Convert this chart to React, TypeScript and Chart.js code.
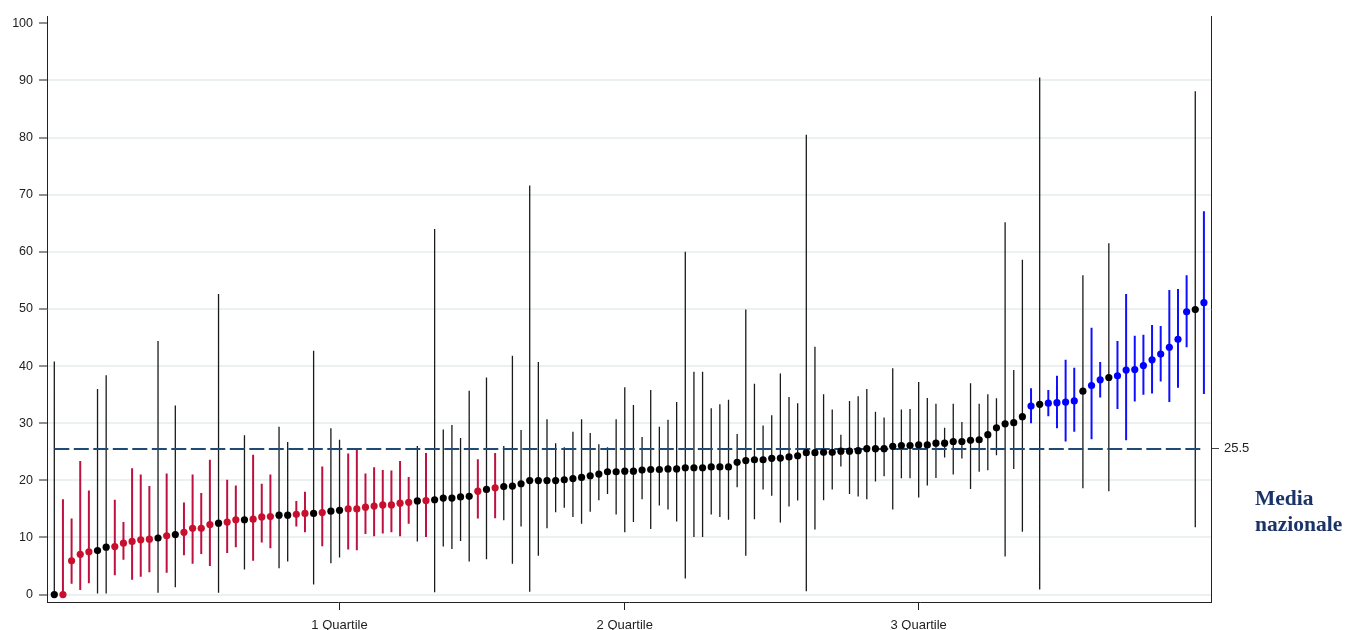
import { useEffect, useRef } from "react";
import { Chart, registerables } from "chart.js";
Chart.register(...registerables);

// ---- data ----
const values = [
  0, 0, 5.9, 7.05, 7.5, 7.7, 8.3, 8.4, 9.0, 9.3, 9.6, 9.7, 9.9, 10.3, 10.5, 10.9, 11.6, 11.6, 12.25, 12.5,
  12.7, 13.1, 13.1, 13.2, 13.6, 13.65, 13.9, 13.9, 14.05, 14.2, 14.2, 14.35, 14.6, 14.75, 15.0, 15.0, 15.3, 15.5, 15.7, 15.7,
  16.0, 16.15, 16.4, 16.45, 16.6, 16.9, 16.9, 17.1, 17.2, 18.1, 18.4, 18.7, 18.9, 19.0, 19.4, 19.95, 19.95, 19.95, 19.95, 20.1,
  20.3, 20.5, 20.8, 21.1, 21.5, 21.5, 21.6, 21.6, 21.8, 21.9, 21.9, 22.0, 22.0, 22.2, 22.2, 22.2, 22.35, 22.35, 22.35, 23.15,
  23.45, 23.6, 23.6, 23.85, 23.9, 24.1, 24.3, 24.85, 24.85, 24.9, 24.9, 25.1, 25.1, 25.2, 25.55, 25.55, 25.55, 25.95, 26.1, 26.1,
  26.2, 26.2, 26.5, 26.5, 26.8, 26.8, 27.0, 27.1, 28.0, 29.2, 29.9, 30.1, 31.15, 33.0, 33.3, 33.5, 33.6, 33.7, 33.9, 35.6,
  36.6, 37.6, 38.0, 38.3, 39.3, 39.4, 40.1, 41.1, 42.1, 43.3, 44.7, 49.5, 49.9, 51.1,
];
const lows = [
  0, 0, 1.9, 0.8, 2.0, 0.2, 0.2, 3.4, 6.1, 2.6, 3.1, 3.9, 0.3, 3.8, 1.3, 6.9, 5.4, 7.1, 5.0, 0.3,
  7.3, 8.3, 4.4, 5.9, 9.1, 8.1, 4.6, 5.8, 11.9, 10.9, 1.75, 8.45, 5.5, 6.5, 7.9, 7.75, 10.6, 10.2, 10.7, 10.9,
  10.2, 12.4, 9.3, 10.1, 0.4, 8.4, 8.0, 9.4, 5.8, 13.3, 6.2, 13.35, 13.0, 5.4, 11.9, 0.5, 6.8, 11.6, 14.4, 15.2,
  13.6, 12.4, 14.5, 16.5, 17.6, 14.0, 10.9, 12.7, 16.7, 11.5, 15.6, 14.9, 12.8, 2.8, 10.1, 10.1, 14.0, 13.6, 13.1, 18.8,
  6.8, 13.2, 18.4, 17.3, 12.6, 15.4, 16.45, 0.6, 11.4, 16.5, 18.4, 22.4, 17.6, 17.15, 16.7, 19.8, 20.7, 14.9, 20.35, 20.35,
  17.0, 19.1, 20.4, 24.0, 21.0, 23.8, 18.5, 21.5, 21.75, 24.4, 6.65, 22.0, 11.0, 30.0, 0.9, 31.2, 29.1, 26.8, 28.5, 18.6,
  27.2, 34.5, 18.1, 32.5, 27.0, 33.8, 35.0, 35.2, 37.3, 33.7, 36.2, 43.3, 11.8, 35.1,
];
const highs = [
  40.8, 16.7, 13.3, 23.4, 18.2, 36.0, 38.4, 16.6, 12.7, 22.1, 21.0, 19.0, 44.4, 21.2, 33.1, 16.1, 21.0, 17.8, 23.6, 52.6,
  20.1, 19.1, 27.9, 24.5, 19.4, 21.0, 29.4, 26.7, 16.4, 18.0, 42.7, 22.4, 29.1, 27.1, 24.7, 25.3, 21.2, 22.3, 21.8, 21.7,
  23.4, 20.6, 26.0, 24.8, 64.0, 28.9, 29.7, 27.4, 35.7, 23.7, 38.0, 24.8, 26.0, 41.8, 28.8, 71.6, 40.7, 30.7, 26.5, 25.8,
  28.5, 30.7, 28.3, 26.3, 25.8, 30.7, 36.3, 33.2, 27.6, 35.8, 29.4, 30.6, 33.7, 60.0, 39.0, 39.0, 32.6, 33.3, 34.1, 28.1,
  49.9, 36.9, 29.6, 31.4, 38.7, 34.6, 33.5, 80.5, 43.4, 35.05, 32.4, 28.0, 33.9, 34.7, 36.0, 32.0, 31.0, 39.6, 32.4, 32.5,
  37.2, 34.4, 33.4, 29.2, 33.4, 30.2, 37.0, 33.4, 35.05, 34.35, 65.2, 39.3, 58.6, 36.1, 90.5, 35.8, 38.3, 41.1, 39.7, 55.9,
  46.7, 40.7, 61.5, 44.4, 52.6, 45.3, 45.5, 47.2, 47.0, 53.3, 53.5, 55.9, 88.1, 67.1,
];
// r = below, k = in line, b = above
const groups = [
  "k", "r", "r", "r", "r", "k", "k", "r", "r", "r", "r", "r", "k", "r", "k", "r", "r", "r", "r", "k",
  "r", "r", "k", "r", "r", "r", "k", "k", "r", "r", "k", "r", "k", "k", "r", "r", "r", "r", "r", "r",
  "r", "r", "k", "r", "k", "k", "k", "k", "k", "r", "k", "r", "k", "k", "k", "k", "k", "k", "k", "k",
  "k", "k", "k", "k", "k", "k", "k", "k", "k", "k", "k", "k", "k", "k", "k", "k", "k", "k", "k", "k",
  "k", "k", "k", "k", "k", "k", "k", "k", "k", "k", "k", "k", "k", "k", "k", "k", "k", "k", "k", "k",
  "k", "k", "k", "k", "k", "k", "k", "k", "k", "k", "k", "k", "k", "b", "k", "b", "b", "b", "b", "k",
  "b", "b", "k", "b", "b", "b", "b", "b", "b", "b", "b", "b", "k", "b",
];
const quartileTicks = [33, 66, 100];
const quartileLabels = ["1 Quartile", "2 Quartile", "3 Quartile"];
const yTicks = [0, 10, 20, 30, 40, 50, 60, 70, 80, 90, 100];
const nationalMean = 25.5;
const meanLabel = ["Media", "nazionale"];

const dotColors: Record<string, string> = { r: "#c8102e", k: "#000000", b: "#0000ff" };
const barColors: Record<string, string> = { r: "#bd1240", k: "#1a1a1a", b: "#1010ff" };
const barWidths: Record<string, number> = { r: 2, k: 1.3, b: 2 };

const meanTextPlugin = {
  id: "meanText",
  afterDraw(chart: any) {
    const { ctx, chartArea } = chart;
    ctx.save();
    ctx.font = 'bold 21.5px "Liberation Serif", "Times New Roman", serif';
    ctx.fillStyle = "#1b3468";
    ctx.textAlign = "left";
    ctx.textBaseline = "alphabetic";
    const x = chartArea.right + 44;
    ctx.fillText(meanLabel[0], x, 497);
    ctx.fillText(meanLabel[1], x, 523);
    ctx.restore();
  },
};

export default function App() {
  const ref = useRef<HTMLCanvasElement | null>(null);

  useEffect(() => {
    document.body.style.margin = "0";
    document.body.style.overflow = "hidden";
    const canvas = ref.current;
    if (!canvas) return;

    const barSets: any[] = [];
    const dotSets: any[] = [];
    ["r", "k", "b"].forEach((g) => {
      const bars: any[] = [];
      const dots: any[] = [];
      values.forEach((v, i) => {
        if (groups[i] !== g) return;
        bars.push({ x: i, y: lows[i] }, { x: i, y: highs[i] }, { x: i, y: null });
        dots.push({ x: i, y: v });
      });
      barSets.push({
        data: bars,
        showLine: true,
        spanGaps: false,
        borderColor: barColors[g],
        borderWidth: barWidths[g],
        pointRadius: 0,
        pointHoverRadius: 0,
        order: 3,
      });
      dotSets.push({
        data: dots,
        showLine: false,
        pointRadius: 3.6,
        pointHoverRadius: 3.6,
        pointBorderWidth: 0,
        pointBackgroundColor: dotColors[g],
        borderColor: dotColors[g],
        backgroundColor: dotColors[g],
        order: 1,
      });
    });

    const meanSet = {
      data: [
        { x: 0, y: nationalMean },
        { x: values.length - 1, y: nationalMean },
      ],
      showLine: true,
      borderColor: "#1f4a73",
      borderWidth: 2,
      borderDash: [15, 4.5],
      pointRadius: 0,
      pointHoverRadius: 0,
      order: 2,
    };

    const tickFont = { family: '"Liberation Sans", Arial, sans-serif', size: 12.5 };
    const noPadV = (s: any, w: number) => {
      s.width = w;
      s.paddingTop = 0;
      s.paddingBottom = 0;
    };

    const chart = new Chart(canvas, {
      type: "scatter",
      data: { datasets: [...barSets, meanSet, ...dotSets] },
      options: {
        animation: false,
        responsive: false,
        layout: { padding: { top: 8.5, left: 0, right: 0, bottom: 0 } },
        plugins: { legend: { display: false }, tooltip: { enabled: false } },
        scales: {
          x: {
            type: "linear",
            min: -0.845,
            max: 133.82,
            afterBuildTicks: (s: any) => {
              s.ticks = quartileTicks.map((v) => ({ value: v }));
            },
            afterFit: (s: any) => {
              s.height = 28;
              s.paddingLeft = 0;
              s.paddingRight = 0;
            },
            ticks: {
              autoSkip: false,
              maxRotation: 0,
              padding: 8,
              color: "#222",
              font: { ...tickFont, size: 13 },
              callback: (_v: any, i: number) => quartileLabels[i],
            },
            grid: {
              drawOnChartArea: false,
              tickLength: 8,
              tickColor: "#222",
              tickWidth: 1,
            },
            border: { color: "#222", width: 1 },
          },
          y: {
            type: "linear",
            position: "left",
            min: -1.3,
            max: 101.2,
            afterBuildTicks: (s: any) => {
              s.ticks = yTicks.map((v) => ({ value: v }));
            },
            afterFit: (s: any) => noPadV(s, 39),
            ticks: {
              padding: 6,
              color: "#222",
              font: tickFont,
              callback: (v: any) => String(v),
            },
            grid: {
              color: (c: any) => (c.tick && c.tick.value === 100 ? "rgba(0,0,0,0)" : "#ebf0f3"),
              lineWidth: 2,
              tickLength: 8,
              tickColor: "#222",
              tickWidth: 1,
            },
            border: { color: "#222", width: 1 },
          },
          y2: {
            type: "linear",
            position: "right",
            min: -1.3,
            max: 101.2,
            afterBuildTicks: (s: any) => {
              s.ticks = [{ value: nationalMean }];
            },
            afterFit: (s: any) => noPadV(s, 135),
            ticks: {
              padding: 5,
              color: "#222",
              font: { ...tickFont, size: 13 },
              callback: () => String(nationalMean),
            },
            grid: {
              drawOnChartArea: false,
              tickLength: 8,
              tickColor: "#444",
              tickWidth: 1,
            },
            border: { color: "#222", width: 1 },
          },
        },
      },
      plugins: [meanTextPlugin],
    } as any);

    return () => chart.destroy();
  }, []);

  return (
    <div style={{ padding: "8px 0 0 8px" }}>
      <canvas ref={ref} width={1338} height={622} style={{ display: "block" }} />
    </div>
  );
}
